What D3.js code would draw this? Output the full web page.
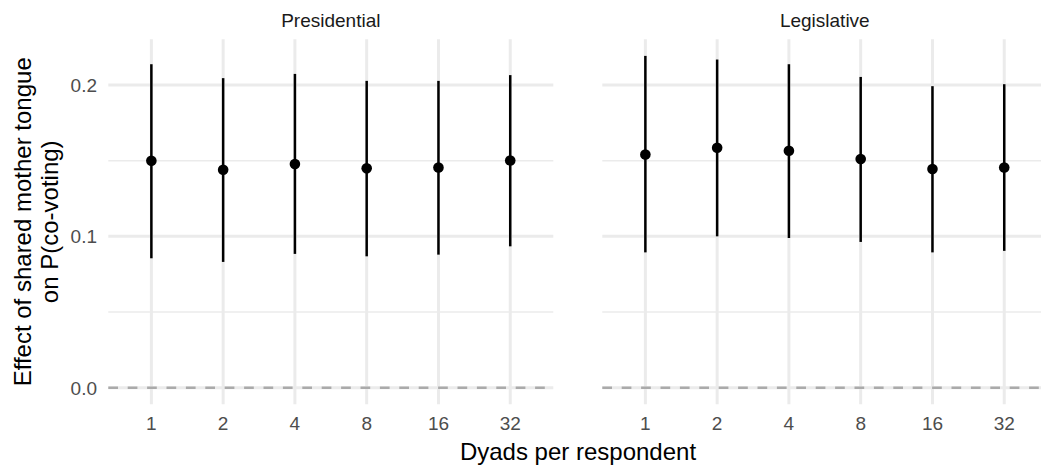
<!DOCTYPE html>
<html>
<head>
<meta charset="utf-8">
<script src="https://cdn.jsdelivr.net/npm/d3@7"></script>
<style>
  body { margin: 0; background: #fff; }
  text { font-family: "Liberation Sans", Arial, Helvetica, sans-serif; }
</style>
</head>
<body>
<div id="canvas-div"></div>
<script>
const dyads = ['1', '2', '4', '8', '16', '32'];
const facets = ['Presidential', 'Legislative'];

const presEstimate = [0.1499, 0.1440, 0.1478, 0.1449, 0.1455, 0.1501];
const presLower = [0.0855, 0.0831, 0.0884, 0.0868, 0.0879, 0.0934];
const presUpper = [0.2137, 0.2045, 0.2073, 0.2027, 0.2027, 0.2065];

const legEstimate = [0.1541, 0.1585, 0.1565, 0.1511, 0.1445, 0.1455];
const legLower = [0.0894, 0.1000, 0.0989, 0.0963, 0.0894, 0.0904];
const legUpper = [0.2192, 0.2168, 0.2137, 0.2053, 0.1992, 0.2005];

const yMajor = [0, 0.1, 0.2];
const yMinor = [0.05, 0.15];

const w = 1041;
const h = 469;
const panelW = 445;
const panelTop = 39.3;
const panelBottom = 404.3;
const panelLefts = [108.3, 602.3];

const rows = (est, lo, hi) => dyads.map((d, i) => ({ dyad: d, est: est[i], lo: lo[i], hi: hi[i] }));
const facetData = [rows(presEstimate, presLower, presUpper), rows(legEstimate, legLower, legUpper)];

// y domain like ggplot: data range incl. the zero line, padded 5% each side
const allVals = [0].concat(presLower, presUpper, legLower, legUpper);
const yMin = d3.min(allVals);
const yMax = d3.max(allVals);
const pad = (yMax - yMin) * 0.05;

const yScale = d3.scaleLinear()
                 .domain([yMin - pad, yMax + pad])
                 .range([panelBottom, panelTop]);

const svg = d3.select('#canvas-div').append('svg').attr('width', w).attr('height', h);

facets.forEach((name, f) => {
    const x0 = panelLefts[f];
    const xScale = d3.scalePoint()
                     .domain(dyads)
                     .range([x0, x0 + panelW])
                     .padding(0.6);

    const g = svg.append('g');

    g.selectAll('.minor')
     .data(yMinor)
     .enter()
     .append('line')
     .attr('x1', x0).attr('x2', x0 + panelW)
     .attr('y1', d => yScale(d)).attr('y2', d => yScale(d))
     .attr('stroke', '#ebebeb').attr('stroke-width', 1.5);

    g.selectAll('.major')
     .data(yMajor)
     .enter()
     .append('line')
     .attr('x1', x0).attr('x2', x0 + panelW)
     .attr('y1', d => yScale(d)).attr('y2', d => yScale(d))
     .attr('stroke', '#ebebeb').attr('stroke-width', 3);

    g.selectAll('.vgrid')
     .data(dyads)
     .enter()
     .append('line')
     .attr('x1', d => xScale(d)).attr('x2', d => xScale(d))
     .attr('y1', panelTop).attr('y2', panelBottom)
     .attr('stroke', '#ebebeb').attr('stroke-width', 3);

    // dashed reference line at zero
    g.append('line')
     .attr('x1', x0).attr('x2', x0 + panelW)
     .attr('y1', yScale(0)).attr('y2', yScale(0))
     .attr('stroke', '#aaaaaa').attr('stroke-width', 2.6)
     .attr('stroke-dasharray', '9.7,9.7');

    g.selectAll('.range')
     .data(facetData[f])
     .enter()
     .append('line')
     .attr('x1', d => xScale(d.dyad)).attr('x2', d => xScale(d.dyad))
     .attr('y1', d => yScale(d.lo)).attr('y2', d => yScale(d.hi))
     .attr('stroke', '#000').attr('stroke-width', 2.5);

    g.selectAll('circle')
     .data(facetData[f])
     .enter()
     .append('circle')
     .attr('cx', d => xScale(d.dyad))
     .attr('cy', d => yScale(d.est))
     .attr('r', 5.3)
     .attr('fill', '#000');

    g.selectAll('.xtick')
     .data(dyads)
     .enter()
     .append('text')
     .attr('x', d => xScale(d))
     .attr('y', 430)
     .attr('text-anchor', 'middle')
     .attr('font-size', 19)
     .attr('fill', '#4d4d4d')
     .text(d => d);

    g.append('text')
     .attr('x', x0 + panelW / 2)
     .attr('y', 27)
     .attr('text-anchor', 'middle')
     .attr('font-size', 19)
     .attr('fill', '#1a1a1a')
     .text(name);
});

svg.selectAll('.ytick')
   .data(yMajor)
   .enter()
   .append('text')
   .attr('x', 97)
   .attr('y', d => yScale(d))
   .attr('dy', '0.36em')
   .attr('text-anchor', 'end')
   .attr('font-size', 19)
   .attr('fill', '#4d4d4d')
   .text(d => d.toFixed(1));

svg.append('text')
   .attr('x', 578)
   .attr('y', 460)
   .attr('text-anchor', 'middle')
   .attr('font-size', 24)
   .attr('fill', '#000')
   .text('Dyads per respondent');

const yTitle = svg.append('text')
                  .attr('transform', `translate(0, ${(panelTop + panelBottom) / 2}) rotate(-90)`)
                  .attr('text-anchor', 'middle')
                  .attr('font-size', 24)
                  .attr('fill', '#000');
yTitle.append('tspan').attr('x', 0).attr('y', 31).text('Effect of shared mother tongue');
yTitle.append('tspan').attr('x', 0).attr('y', 58).text('on P(co-voting)');
</script>
</body>
</html>
